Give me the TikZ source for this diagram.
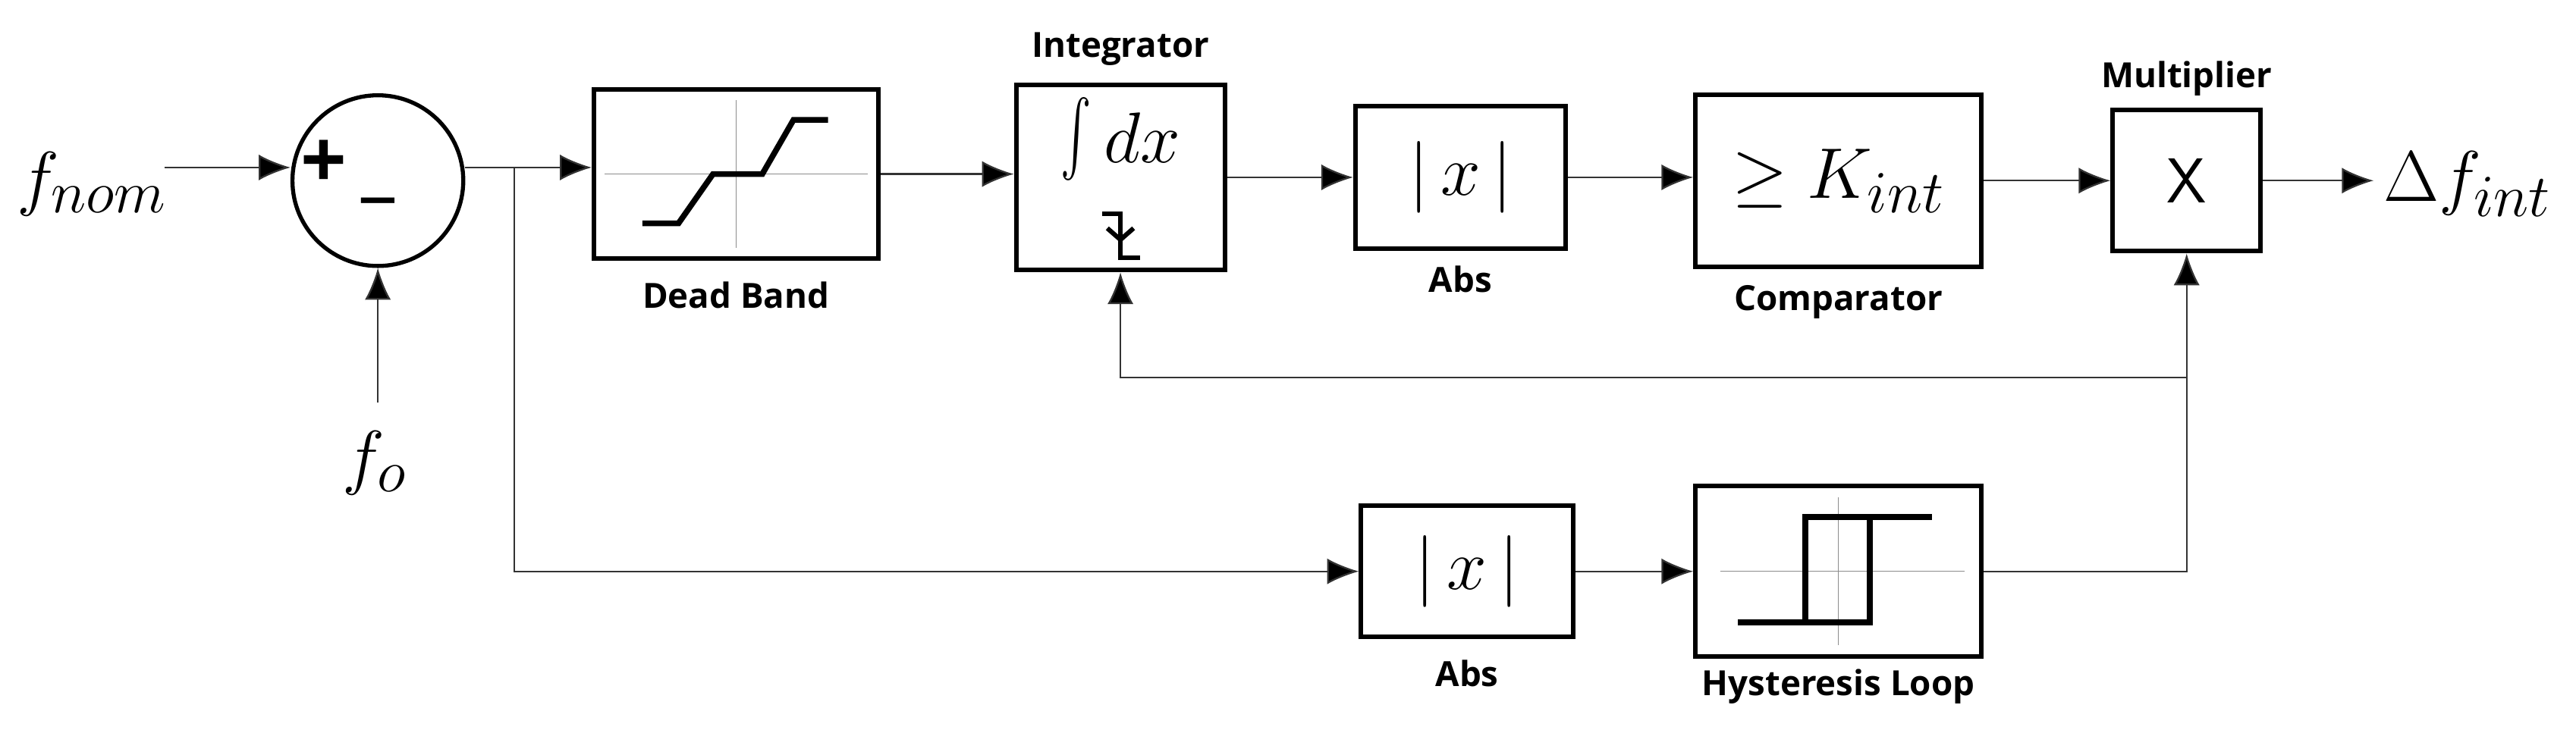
\documentclass[tikz,border=0pt]{standalone}
\usepackage{fontspec}
\usepackage{graphicx}
\newfontfamily\lblfont{Open Sans}
\usetikzlibrary{positioning,arrows.meta}
\begin{document}
\begin{tikzpicture}[x=0.02cm,y=-0.02cm,
  blk/.style={draw,line width=1.6pt,inner sep=0pt},
  sig/.style={line width=0.6pt,draw=black!80},
  arr/.style={sig,-{Latex[length=11pt,width=9pt,fill=black]}},
  lbl/.style={font=\lblfont\bfseries\fontsize{12}{14}\selectfont},
  curve/.style={line width=2pt},
  axis/.style={line width=0.4pt,draw=black!45}]
  \useasboundingbox (0,0) rectangle (1568,458);

  % blocks
  \node [draw,circle,line width=1.4pt,minimum size=2.08cm] (sum) at (230,110) {};
  \node [blk,minimum width=3.46cm,minimum height=2.06cm] (db) at (448,106) {};
  \node [blk,minimum width=2.54cm,minimum height=2.26cm] (int) at (682,108) {};
  \node [blk,minimum width=2.56cm,minimum height=1.74cm,font=\fontsize{26}{28}\selectfont] (abs1) at (889,108) {$|\,x\,|$};
  \node [blk,minimum width=3.48cm,minimum height=2.10cm,font=\fontsize{28}{30}\selectfont] (cmp) at (1119,110) {$\geq K_{int}$};
  \node [blk,minimum width=1.80cm,minimum height=1.72cm,font=\sffamily\fontsize{22}{24}\selectfont] (mul) at (1331,110) {X};
  \node [blk,minimum width=2.58cm,minimum height=1.60cm,font=\fontsize{26}{28}\selectfont] (abs2) at (893,348) {$|\,x\,|$};
  \node [blk,minimum width=3.48cm,minimum height=2.08cm] (hys) at (1119,348) {};

  % texts
  \node [font=\fontsize{28}{30}\selectfont] (fnom) at (56,112) {$f_{nom}$};
  \node [font=\fontsize{28}{30}\selectfont] (fo) at (228,282) {$f_{o}$};
  \node [font=\fontsize{28}{30}\selectfont] (dout) at (1502,112) {$\Delta f_{int}$};
  \node [font=\lblfont\bfseries\fontsize{28}{30}\selectfont] at (197,100) {+};
  \node [font=\lblfont\bfseries\fontsize{28}{30}\selectfont] at (230,120) {\_};
  \node [lbl] at (448,180) {Dead Band};
  \node [lbl] at (682,30) {Integrator};
  \node [lbl] at (889,170) {Abs};
  \node [lbl] at (1119,184) {Comparator};
  \node [lbl] at (1331,48) {Multiplier};
  \node [lbl] at (893,410) {Abs};
  \node [lbl] at (1119,418) {Hysteresis Loop};

  % block contents
  \begin{scope}[shift={(db.center)}]
    \draw [axis] (-80,0) -- (80,0) (0,-45) -- (0,45);
    \draw [curve] (-57,30) -- (-35,30) -- (-14,0) -- (16,0) -- (35,-33) -- (56,-33);
  \end{scope}
  \begin{scope}[shift={(hys.center)}]
    \draw [axis] (-72,0) -- (77,0) (0,-45) -- (0,45);
    \draw [curve] (-61,31) -- (19,31) -- (19,-33);
    \draw [curve] (-20,31) -- (-20,-33) -- (57,-33);
  \end{scope}
  \begin{scope}[shift={(int.center)}]
    \node [font=\fontsize{26}{28}\selectfont] at (0,-22) {\raisebox{-0.7ex}{\scalebox{1.6}[2.6]{$\int$}}\,$dx$};
    \draw [line width=1.6pt] (-11,22) -- (0,22) -- (0,49) -- (12,49);
    \draw [line width=1.6pt] (-8,31) -- (0,38) -- (8,31);
  \end{scope}

  % connectors
  \coordinate (fin) at (100,102);
  \coordinate (foin) at (230,245);
  \coordinate (br1) at (313,102);
  \coordinate (br2) at (1331,230);
  \draw [arr] (fin) -- (sum.west |- fin);
  \draw [arr] (foin) -- (sum.south);
  \draw [arr] (sum.east |- br1) -- (db.west |- br1);
  \draw [arr] (br1) |- (abs2.west);
  \draw [arr] (db.east) -- (int.west |- db.east);
  \draw [arr] (int.east |- abs1.west) -- (abs1.west);
  \draw [arr] (abs1.east) -- (cmp.west |- abs1.east);
  \draw [arr] (cmp.east) -- (mul.west);
  \draw [arr] (mul.east) -- (dout.west |- mul.east);
  \draw [arr] (abs2.east) -- (hys.west);
  \draw [arr] (hys.east) -| (mul.south);
  \draw [arr] (br2) -| (int.south);
\end{tikzpicture}
\end{document}
